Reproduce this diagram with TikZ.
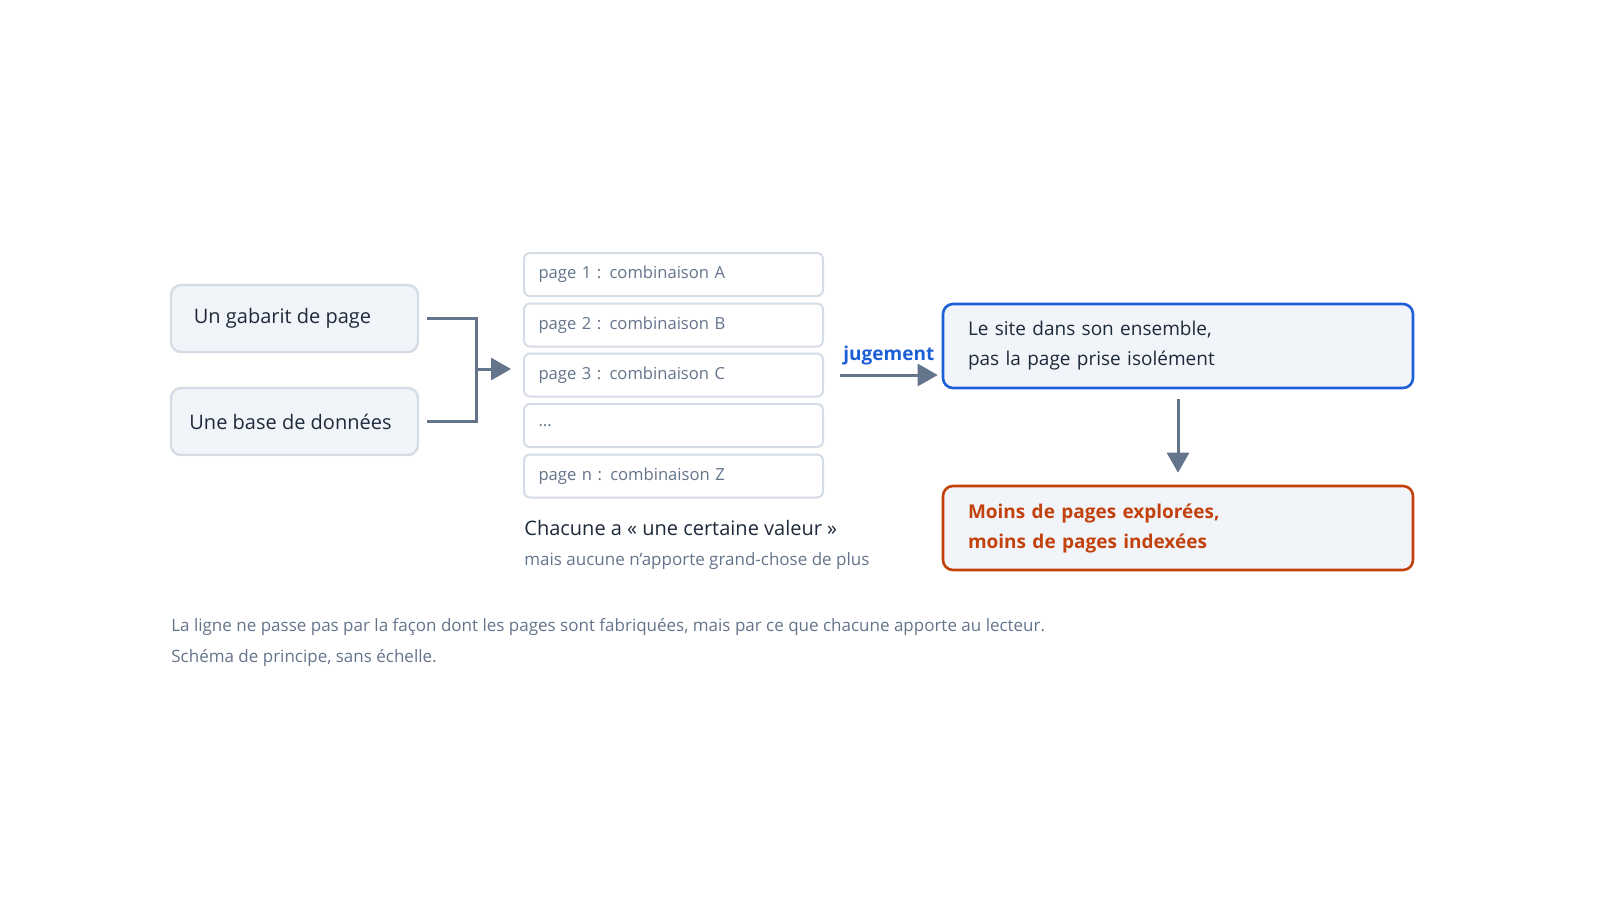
\documentclass[tikz,border=0pt]{standalone}
\usepackage{fontspec}
\setmainfont{Open Sans}
\usetikzlibrary{positioning, arrows.meta}
\definecolor{boxfill}{HTML}{F1F5F9}
\definecolor{boxline}{HTML}{D5DCE6}
\definecolor{slate}{HTML}{64748B}
\definecolor{ink}{HTML}{1E293B}
\definecolor{blueline}{HTML}{1D5FD6}
\definecolor{rust}{HTML}{C2410C}
\tikzset{
    src/.style={draw=boxline, line width=1.2pt, fill=boxfill, rounded corners=5pt, minimum width=123.5pt, minimum height=33.5pt, text=ink, font=\fontsize{10}{12}\selectfont},
    pg/.style={draw=boxline, line width=1pt, fill=white, rounded corners=3pt, minimum width=149.5pt, minimum height=21.5pt, text=slate, font=\fontsize{8.3}{10}\selectfont, text width=135pt, align=left},
    big/.style={line width=1.3pt, fill=boxfill, rounded corners=5pt, minimum width=235pt, minimum height=42pt, text width=210pt, align=left, font=\fontsize{9.5}{15}\selectfont},
    arr/.style={draw=slate, line width=1.5pt, -{Triangle[length=10pt, width=11pt]}}
}
\begin{document}
\begin{tikzpicture}[x=0.5pt, y=-0.5pt]
    \useasboundingbox (0,0) rectangle (1600,900);

    \node (tpl) [src] at (294.5,318.5) {Un gabarit de page\hspace*{12pt}};
    \node (db)  [src] at (294.5,421.5) {Une base de données\hspace*{4pt}};

    \node (p1) [pg] at (673.5,274.5) {page 1 : combinaison A};
    \node (p2) [pg] at (673.5,325) {page 2 : combinaison B};
    \node (p3) [pg] at (673.5,375) {page 3 : combinaison C};
    \node (p4) [pg] at (673.5,425.5) {...};
    \node (pn) [pg] at (673.5,476) {page n : combinaison Z};

    \node (val) [anchor=west, text=ink, font=\fontsize{10}{12}\selectfont, inner sep=0pt] at (524,528) {Chacune a « une certaine valeur »};
    \node (rem) [anchor=west, text=slate, font=\fontsize{8.5}{10}\selectfont, inner sep=0pt] at (524,561) {mais aucune n'apporte grand-chose de plus};

    \node (site) [big, draw=blueline, text=ink] at (1178,346) {Le site dans son ensemble,\\pas la page prise isolément};
    \node (less) [big, draw=rust, text=rust, font=\fontsize{9.5}{15}\selectfont\bfseries] at (1178,528) {Moins de pages explorées,\\moins de pages indexées};

    \coordinate (j) at (476,369);
    \draw [draw=slate, line width=1.5pt] ([xshift=4pt]tpl.east) -| (j) |- ([xshift=4pt]db.east);
    \draw [arr] (j) -- ([xshift=-6pt]p3.west |- j);
    \draw [arr] ([xshift=8pt]p3.east |- 0,375) -- node [above=1pt, text=blueline, font=\fontsize{9.5}{12}\selectfont\bfseries] {jugement} ([xshift=-2pt]site.west |- 0,375);
    \draw [arr] ([yshift=-5pt]site.south) -- ([yshift=6pt]less.north);

    \node (note) [anchor=west, text=slate, font=\fontsize{8.5}{10}\selectfont, inner sep=0pt] at (171,627) {La ligne ne passe pas par la façon dont les pages sont fabriquées, mais par ce que chacune apporte au lecteur.};
    \node (scale) [anchor=west, text=slate, font=\fontsize{8.5}{10}\selectfont, inner sep=0pt] at (171,658) {Schéma de principe, sans échelle.};
\end{tikzpicture}
\end{document}
